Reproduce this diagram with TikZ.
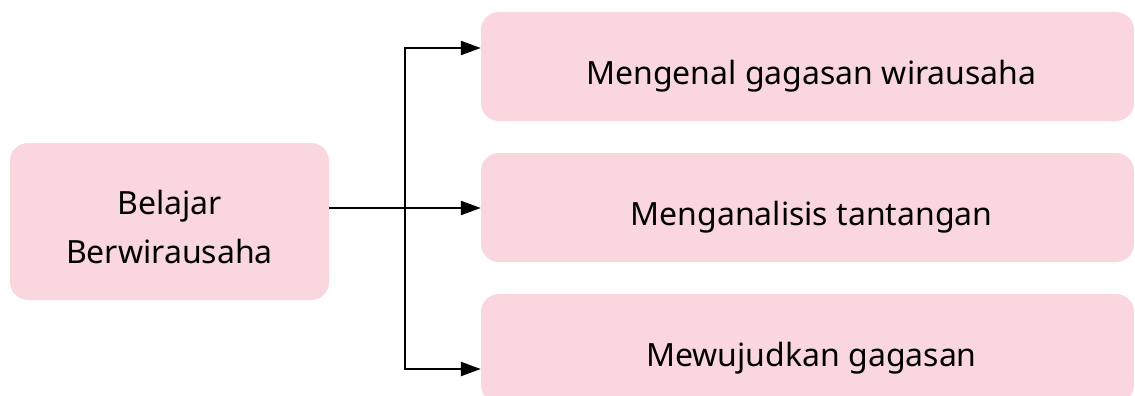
\documentclass[tikz,border=0pt]{standalone}
\usepackage{fontspec}
\setmainfont{Noto Sans}
\usetikzlibrary{arrows.meta,calc}
\definecolor{boxpink}{RGB}{250,215,223}
\tikzset{
  box/.style={fill=boxpink, draw=none, rounded corners=18pt, inner sep=0pt},
  lbl/.style={inner sep=0pt, font=\fontsize{32}{49}\selectfont, align=center},
  conn/.style={draw=black, line width=2.4pt},
  arr/.style={conn, -{Triangle[length=20pt,width=14pt]}}
}
\begin{document}
\begin{tikzpicture}[x=1pt,y=1pt]
\useasboundingbox (0,0) rectangle (1135,-396);
\clip (0,0) rectangle (1135,-396);
\fill[white] (0,0) rectangle (1135,-396);
\node[box, minimum width=319pt, minimum height=157pt] (src) at (169.5,-221.5) {};
\node[box, minimum width=653pt, minimum height=109pt] (b1) at (807.5,-66.5) {};
\node[box, minimum width=653pt, minimum height=109pt] (b2) at (807.5,-207.5) {};
\node[box, minimum width=653pt, minimum height=109pt] (b3) at (807.5,-348.5) {};
\node[lbl] (srct) at ($(src.center)+(0,-5)$) {Belajar\\Berwirausaha};
\node[lbl] (b1t) at ($(b1.center)+(4,-10)$) {Mengenal gagasan wirausaha};
\node[lbl] (b2t) at ($(b2.center)+(4,-10)$) {Menganalisis tantangan};
\node[lbl] (b3t) at ($(b3.center)+(4,-10)$) {Mewujudkan gagasan};
\coordinate (s) at (src.east |- 0,-208);
\coordinate (j) at (405,-208);
\coordinate (e1) at (b1.west |- 0,-48);
\coordinate (e2) at (b2.west |- 0,-208);
\coordinate (e3) at (b3.west |- 0,-369);
\draw[arr] (s) -- (e2);
\draw[arr] (j) |- (e1);
\draw[arr] (j) |- (e3);
\end{tikzpicture}
\end{document}
